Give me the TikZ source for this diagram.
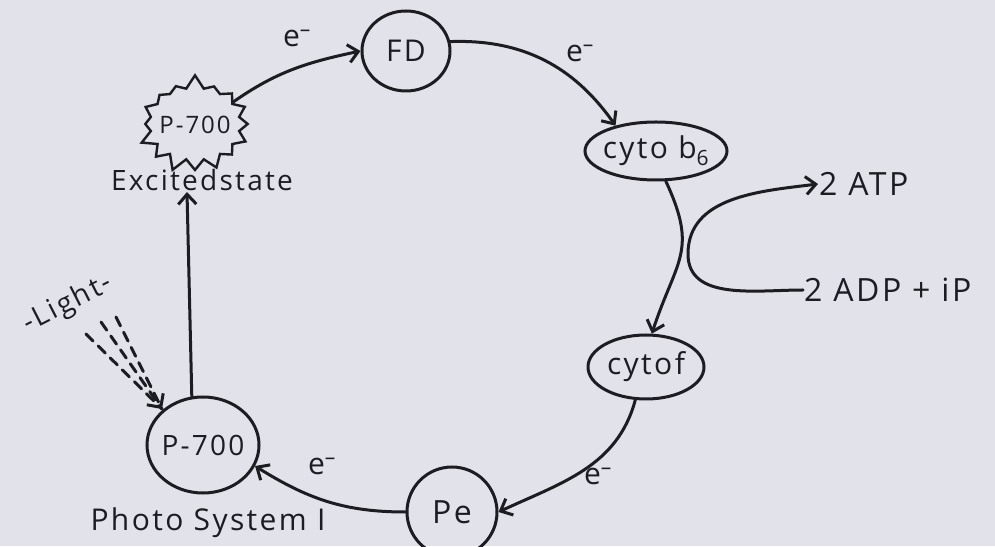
\documentclass[tikz,border=0pt]{standalone}
\usepackage{fontspec}
\setmainfont{Open Sans}
\newfontfamily\hand[LetterSpace=8]{Open Sans}
\usetikzlibrary{arrows.meta,shapes.symbols,shapes.geometric}
\definecolor{paper}{RGB}{226,226,234}
\definecolor{ink}{RGB}{28,28,34}
\tikzset{
  ink line/.style={draw=ink, line width=3pt, line cap=round},
  flow/.style={ink line, -{Straight Barb[length=10pt,width=18pt,line width=3pt]}},
  carrier/.style={ellipse, draw=ink, line width=3pt, inner xsep=-8pt, inner ysep=0pt, text=ink},
  label text/.style={text=ink, inner sep=1pt},
  fs/.style={font=\hand\fontsize{#1}{#1}\selectfont},
}
\begin{document}
\begin{tikzpicture}[x=1pt,y=1pt]
  \useasboundingbox (0,0) rectangle (995,546);
  \fill[paper] (0,0) rectangle (995,546);

  % electron carriers
  \node[carrier, fs=30, minimum width=88pt, minimum height=80pt] (FD) at (406,495) {FD};
  \node[carrier, fs=30, minimum width=142pt, minimum height=58pt] (cyto) at (656,395) {cyto b\textsubscript{6}};
  \node[carrier, fs=30, minimum width=116pt, minimum height=64pt] (cytof) at (646,179) {cytof};
  \node[carrier, fs=32, minimum width=90pt, minimum height=90pt] (Pe) at (452,34) {Pe};
  \node[carrier, fs=28, minimum width=112pt, minimum height=96pt] (P700) at (203,101) {P-700};
  \node[label text, fs=30] (psi) at (208,23) {Photo System I};

  % excited reaction centre
  \node[starburst, draw=ink, line width=2.4pt, starburst points=16,
        starburst point height=14pt, random starburst=7,
        minimum width=118pt, minimum height=100pt, inner sep=0pt] (star) at (195,422) {};
  \node[label text, fs=24] (p7ex) at (195,421) {P-700};
  \node[label text, fs=28] (exc) at (202,366) {Excitedstate};

  % phosphorylation products
  \node[label text, fs=32, anchor=west] (ATP) at (818,362) {2 ATP};
  \node[label text, fs=32, anchor=west] (ADP) at (803,256) {2 ADP + iP};

  % electron labels
  \node[label text, fs=30] (e1) at (297,508) {e\textsuperscript{–}};
  \node[label text, fs=30] (e2) at (580,493) {e\textsuperscript{–}};
  \node[label text, fs=30] (e3) at (598,70) {e\textsuperscript{–}};
  \node[label text, fs=30] (e4) at (322,80) {e\textsuperscript{–}};

  % light
  \node[label text, fs=28, rotate=27] (light) at (68,242) {-Light-};

  \coordinate (upend) at (187,354);
  \coordinate (bend) at (688,292);
  \coordinate (lt1) at (86,212);
  \coordinate (lt2) at (101,224);
  \coordinate (lt3) at (116,229);
  \coordinate (ltip) at (162,137);

  % electron transport chain
  \draw[flow] (star.30) to[out=35,in=192] (FD.west);
  \draw[flow] (FD.12) to[out=2,in=125] (cyto.148);
  \draw[flow] (cyto.-72) to[out=-65,in=72,looseness=1.3] (cytof.80);
  \draw[flow] (cytof.-108) to[out=-105,in=25] (Pe.east);
  \draw[flow] (Pe.west) to[out=180,in=-32] (P700.-22);
  \draw[flow] (P700.103) -- (upend);

  % ATP synthesis
  \draw[flow] (ADP.west) to[out=180,in=-90] (bend) to[out=90,in=187] (ATP.west);

  % incoming light
  \draw[ink line, dash pattern=on 10pt off 7pt] (lt1) -- (ltip);
  \draw[ink line, dash pattern=on 10pt off 7pt] (lt3) -- (ltip);
  \draw[ink line, dash pattern=on 10pt off 7pt,
        -{Straight Barb[length=10pt,width=20pt,line width=3pt]}] (lt2) -- (ltip);
\end{tikzpicture}
\end{document}
